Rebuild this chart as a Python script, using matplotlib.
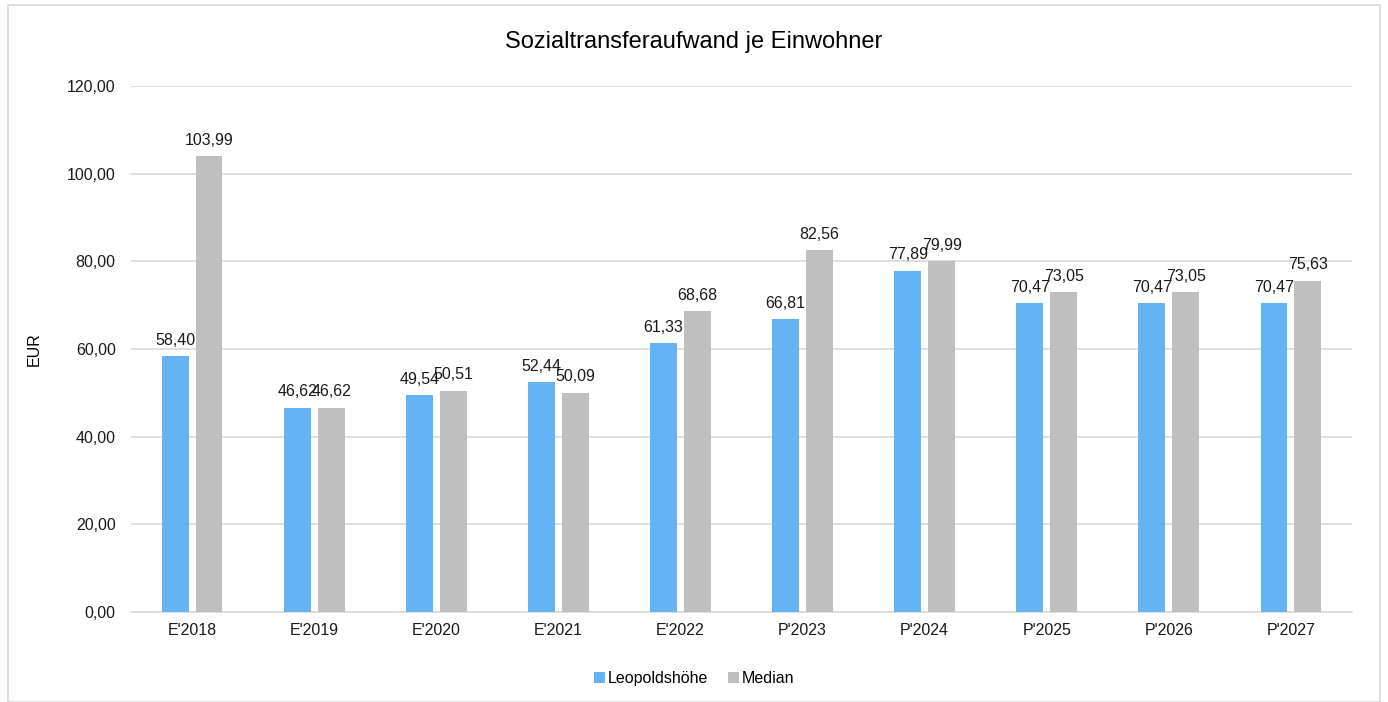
import numpy as np
import matplotlib
matplotlib.use("Agg")
import matplotlib.pyplot as plt
from matplotlib.patches import Rectangle

categories = ["E'2018", "E'2019", "E'2020", "E'2021", "E'2022",
              "P'2023", "P'2024", "P'2025", "P'2026", "P'2027"]
leopoldshoehe = [58.40, 46.62, 49.54, 52.44, 61.33, 66.81, 77.89, 70.47, 70.47, 70.47]
median = [103.99, 46.62, 50.51, 50.09, 68.68, 82.56, 79.99, 73.05, 73.05, 75.63]

plt.rcParams['font.family'] = ['Liberation Sans', 'DejaVu Sans']

def fmt(v):
    return ("%.2f" % v).replace(".", ",")

fig = plt.figure(figsize=(13.88, 7.02), dpi=100)
ax = fig.add_axes([131 / 1388, 0.128, 1221 / 1388, 0.7495])

x = np.arange(len(categories))
w = 0.22
off = 0.139
b1 = ax.bar(x - off, leopoldshoehe, w, color='#63b3f5', label='Leopoldshöhe', zorder=3)
b2 = ax.bar(x + off, median, w, color='#bfbfbf', label='Median', zorder=3)

# labels sit above the bars; neighbouring ones touch, as in the original
for bars, vals in [(b1, leopoldshoehe), (b2, median)]:
    for r, v in zip(bars, vals):
        ax.annotate(fmt(v), (r.get_x() + r.get_width() / 2, v),
                    xytext=(0, 6), textcoords='offset points',
                    ha='center', va='bottom', fontsize=11.5, color='#1a1a1a')

ax.set_xlim(-0.5, len(categories) - 0.5)
ax.set_ylim(0, 120)
ax.set_yticks(np.arange(0, 121, 20))
ax.set_yticklabels([fmt(v) for v in np.arange(0, 121, 20)])
ax.set_xticks(x)
ax.set_xticklabels(categories)
ax.tick_params(axis='both', length=0, labelsize=11.5, colors='#1a1a1a')
ax.tick_params(axis='y', pad=11)
ax.tick_params(axis='x', pad=8)
ax.grid(axis='y', color='#d9d9d9', linewidth=1.2, zorder=0)
for s in ['top', 'right', 'left']:
    ax.spines[s].set_visible(False)
ax.spines['bottom'].set_color('#d9d9d9')
ax.spines['bottom'].set_linewidth(1.2)
ax.set_ylabel('EUR', fontsize=11.5, labelpad=18)

fig.text(0.5, 0.94, 'Sozialtransferaufwand je Einwohner', ha='center', va='center', fontsize=17)

fig.legend(handles=[b1, b2], loc='upper center', bbox_to_anchor=(0.5, 0.065), ncol=2, frameon=False,
           fontsize=11.5, handlelength=0.7, handleheight=0.7, columnspacing=1.2, handletextpad=0.2)

fig.patches.append(Rectangle((8 / 1388, 0), 1372 / 1388, 697 / 702, transform=fig.transFigure,
                             fill=False, edgecolor='#d9d9d9', linewidth=1.2))

fig.savefig('out.png', dpi=100)
